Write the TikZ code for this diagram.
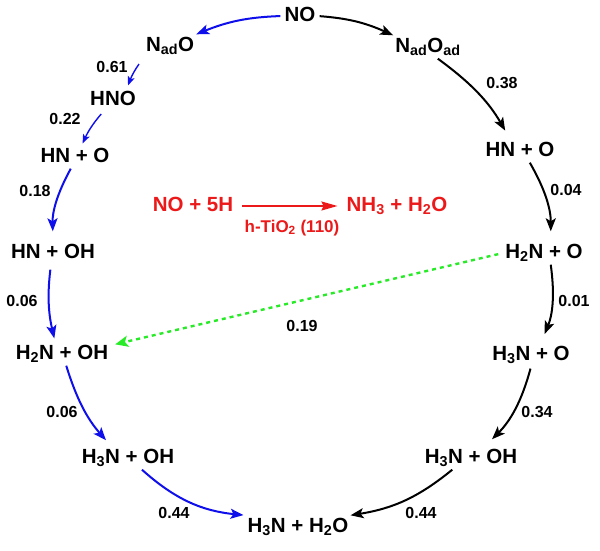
\documentclass[tikz,border=0pt]{standalone}
\usepackage{fontspec}
\setmainfont{Liberation Sans}
\usetikzlibrary{arrows.meta}
\definecolor{cycblue}{RGB}{15,15,235}
\definecolor{cycgreen}{RGB}{40,235,40}
\definecolor{cycred}{RGB}{235,25,25}
\tikzset{
  species/.style={font=\fontsize{20.5}{24}\selectfont\bfseries,inner sep=2pt,text height=15pt,text depth=4pt},
  rate/.style={font=\fontsize{16}{19}\selectfont\bfseries,inner sep=1pt},
  rxn/.style={line width=2pt,-{Stealth[length=13pt,width=10pt,inset=3pt]}},
  rxnsmall/.style={line width=1.4pt,-{Stealth[length=9pt,width=7pt,inset=2pt]}}
}
\begin{document}
\begin{tikzpicture}[x=1pt,y=1pt]
  \useasboundingbox (0,0) rectangle (600,551);
  % Zwischenstufen
  \node[species] (NO) at (300,535) {NO};
  \node[species] (NadO) at (170,505) {N\textsubscript{ad}O};
  \node[species] (NadOad) at (428,504) {N\textsubscript{ad}O\textsubscript{ad}};
  \node[species] (HNO) at (113,451) {HNO};
  \node[species] (HNOl) at (75,394) {HN + O};
  \node[species] (HNOHl) at (53,298) {HN + OH};
  \node[species] (HHNOHl) at (62,197) {H\textsubscript{2}N + OH};
  \node[species] (HHHNOHl) at (128,93) {H\textsubscript{3}N + OH};
  \node[species] (end) at (298,24) {H\textsubscript{3}N + H\textsubscript{2}O};
  \node[species] (HNOr) at (520,400) {HN + O};
  \node[species] (HHNOr) at (544,298) {H\textsubscript{2}N + O};
  \node[species] (HHHNOr) at (531,196) {H\textsubscript{3}N + O};
  \node[species] (HHHNOHr) at (471,93) {H\textsubscript{3}N + OH};
  % linker Weg (blau)
  \draw[rxn,cycblue,shorten <=2pt] (NO.west) to[bend right=10] (NadO.north east);
  \draw[rxnsmall,cycblue,shorten <=8pt,shorten >=3pt] (NadO.south west) to[bend right=8] (HNO.40);
  \draw[rxnsmall,cycblue,shorten <=3pt,shorten >=2pt] (HNO.230) to[bend right=8] (HNOl.60);
  \draw[rxn,cycblue,shorten >=10pt] (HNOl.250) to[bend right=15] (HNOHl.north);
  \draw[rxn,cycblue,shorten <=5pt,shorten >=4pt] (HNOHl.260) to[bend right=10] (HHNOHl.120);
  \draw[rxn,cycblue,shorten >=8pt] (HHNOHl.290) to[bend right=12] (HHHNOHl.145);
  \draw[rxn,cycblue,shorten >=2pt] (HHHNOHl.-40) to[bend right=18] (end.north west);
  % rechter Weg (schwarz)
  \draw[rxn,shorten <=2pt] (NO.east) to[bend left=10] (NadOad.north west);
  \draw[rxn,shorten >=10pt] (NadOad.-50) to[bend left=12] (HNOr.130);
  \draw[rxn,shorten >=10pt] (HNOr.-50) to[bend left=15] (HHNOr.60);
  \draw[rxn,shorten >=10pt] (HHNOr.-60) to[bend left=15] (HHHNOr.50);
  \draw[rxn,shorten <=2pt,shorten >=10pt] (HHHNOr.south) to[bend left=15] (HHHNOHr.40);
  \draw[rxn] (HHHNOHr.212) to[bend left=15] (end.north east);
  % Abkuerzung (gruen)
  \draw[line width=2.4pt,cycgreen,dash pattern=on 4pt off 4pt,
        -{Stealth[length=13pt,width=11pt,inset=3pt]},shorten <=5pt,shorten >=5pt] (HHNOr.west) -- (HHNOHl.10);
  % Barrieren
  \node[rate] (r1) at (112,484) {0.61};
  \node[rate] (r2) at (65,432) {0.22};
  \node[rate] (r3) at (35,360) {0.18};
  \node[rate] (r4) at (22,250) {0.06};
  \node[rate] (r5) at (62,139) {0.06};
  \node[rate] (r6) at (174,38) {0.44};
  \node[rate] (r7) at (502,468) {0.38};
  \node[rate] (r8) at (566,361) {0.04};
  \node[rate] (r9) at (574,250) {0.01};
  \node[rate] (r10) at (537,139) {0.34};
  \node[rate] (r11) at (421,38) {0.44};
  \node[rate] (r12) at (302,225) {0.19};
  % Gesamtreaktion
  \node[species,cycred] (lhs) at (193,345) {NO + 5H};
  \node[species,cycred] (rhs) at (397,345) {NH\textsubscript{3} + H\textsubscript{2}O};
  \node[cycred,font=\fontsize{17}{20}\selectfont\bfseries] (cat) at (292,323) {h-TiO\textsubscript{2} (110)};
  \draw[cycred,line width=1.4pt,-{Stealth[length=16pt,width=9pt,inset=2pt]},
        shorten <=7pt,shorten >=7pt] (lhs) -- (rhs);
\end{tikzpicture}
\end{document}
